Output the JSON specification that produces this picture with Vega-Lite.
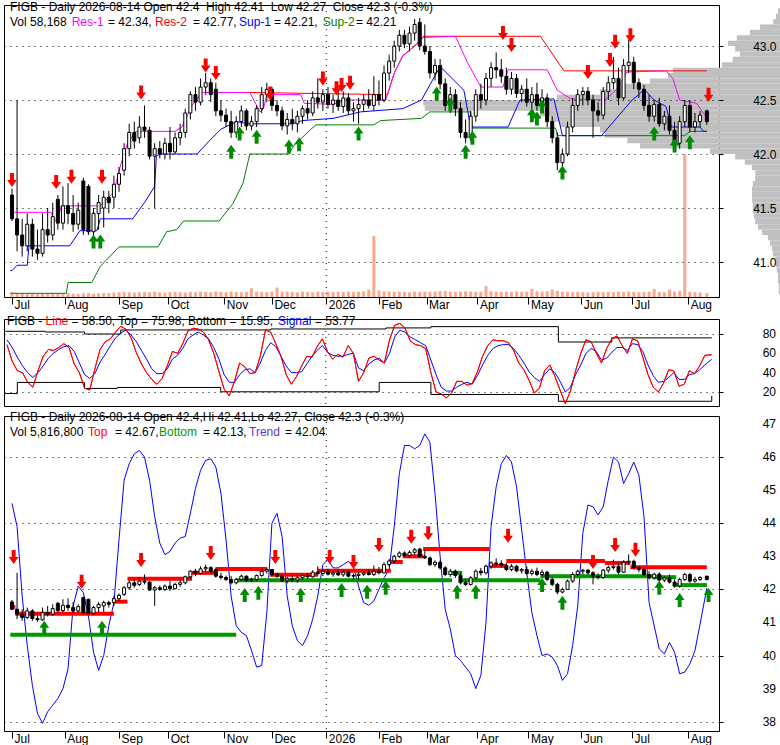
{
"$schema": "https://vega.github.io/schema/vega-lite/v6.json",
"padding": {"left": 2, "top": 0, "right": 0, "bottom": 0},
"config": {"font": "Liberation Sans", "view": {"stroke": "#000", "strokeWidth": 1}},
"datasets": {
"cd": [
{"d":"2025-07-01","o":41.62,"h":41.68,"l":41.38,"c":41.4,"v":70,"ln":69,"sg":74,"tr":44.6},
{"d":"2025-07-04","o":41.4,"h":42.5,"l":41.1,"c":41.25,"v":60,"ln":52,"sg":66,"tr":43.9},
{"d":"2025-07-07","o":41.25,"h":41.4,"l":41.05,"c":41.15,"v":55,"ln":42,"sg":56,"tr":41.8},
{"d":"2025-07-10","o":41.15,"h":41.45,"l":41.1,"c":41.35,"v":50,"ln":40,"sg":47,"tr":40.3},
{"d":"2025-07-13","o":41.35,"h":41.4,"l":41.05,"c":41.12,"v":55,"ln":30,"sg":40,"tr":39.1},
{"d":"2025-07-16","o":41.12,"h":41.3,"l":41.02,"c":41.08,"v":45,"ln":25,"sg":35,"tr":38.25},
{"d":"2025-07-19","o":41.08,"h":41.45,"l":41.05,"c":41.3,"v":50,"ln":42,"sg":40,"tr":37.95},
{"d":"2025-07-22","o":41.3,"h":41.5,"l":41.18,"c":41.25,"v":55,"ln":57,"sg":47,"tr":38.3},
{"d":"2025-07-25","o":41.25,"h":41.55,"l":41.2,"c":41.42,"v":60,"ln":64,"sg":55,"tr":38.5},
{"d":"2025-07-28","o":41.58,"h":41.62,"l":41.3,"c":41.36,"v":50,"ln":63,"sg":60,"tr":38.7},
{"d":"2025-07-31","o":41.36,"h":41.7,"l":41.3,"c":41.52,"v":55,"ln":66,"sg":64,"tr":39.0},
{"d":"2025-08-03","o":41.52,"h":41.73,"l":41.35,"c":41.45,"v":60,"ln":70,"sg":67,"tr":39.6},
{"d":"2025-08-06","o":41.45,"h":41.62,"l":41.28,"c":41.35,"v":50,"ln":66,"sg":68,"tr":41.5},
{"d":"2025-08-09","o":41.35,"h":41.55,"l":41.3,"c":41.48,"v":45,"ln":49,"sg":62,"tr":42.1},
{"d":"2025-08-12","o":41.75,"h":41.78,"l":41.25,"c":41.3,"v":55,"ln":40,"sg":50,"tr":41.9},
{"d":"2025-08-15","o":41.7,"h":41.72,"l":41.25,"c":41.28,"v":60,"ln":24,"sg":38,"tr":41.2},
{"d":"2025-08-18","o":41.28,"h":41.5,"l":41.22,"c":41.45,"v":50,"ln":22,"sg":34,"tr":40.1},
{"d":"2025-08-21","o":41.45,"h":41.62,"l":41.3,"c":41.55,"v":55,"ln":44,"sg":39,"tr":39.55},
{"d":"2025-08-24","o":41.5,"h":41.66,"l":41.32,"c":41.6,"v":60,"ln":64,"sg":51,"tr":40.0},
{"d":"2025-08-27","o":41.6,"h":41.66,"l":41.45,"c":41.55,"v":55,"ln":72,"sg":59,"tr":40.9},
{"d":"2025-08-30","o":41.6,"h":41.8,"l":41.5,"c":41.72,"v":65,"ln":75,"sg":68,"tr":41.6},
{"d":"2025-09-02","o":41.72,"h":41.88,"l":41.65,"c":41.82,"v":70,"ln":82,"sg":76,"tr":43.5},
{"d":"2025-09-05","o":41.85,"h":42.1,"l":41.8,"c":42.05,"v":75,"ln":88,"sg":81,"tr":45.3},
{"d":"2025-09-08","o":42.05,"h":42.28,"l":41.98,"c":42.2,"v":70,"ln":85,"sg":84,"tr":45.8},
{"d":"2025-09-11","o":42.2,"h":42.3,"l":42.05,"c":42.12,"v":65,"ln":76,"sg":79,"tr":46.1},
{"d":"2025-09-14","o":42.15,"h":42.35,"l":42.1,"c":42.25,"v":70,"ln":61,"sg":72,"tr":46.2},
{"d":"2025-09-17","o":42.25,"h":42.45,"l":42.15,"c":42.22,"v":75,"ln":49,"sg":63,"tr":46.0},
{"d":"2025-09-20","o":42.22,"h":42.25,"l":41.95,"c":41.98,"v":70,"ln":40,"sg":54,"tr":45.3},
{"d":"2025-09-23","o":41.98,"h":42.1,"l":41.5,"c":42.05,"v":80,"ln":33,"sg":44,"tr":44.2},
{"d":"2025-09-26","o":42.05,"h":42.12,"l":41.96,"c":42.0,"v":70,"ln":28,"sg":39,"tr":43.4},
{"d":"2025-09-29","o":42.0,"h":42.15,"l":41.95,"c":42.1,"v":65,"ln":34,"sg":39,"tr":43.05},
{"d":"2025-10-02","o":42.1,"h":42.25,"l":41.95,"c":42.02,"v":70,"ln":47,"sg":44,"tr":43.15},
{"d":"2025-10-05","o":42.02,"h":42.2,"l":42.0,"c":42.15,"v":75,"ln":62,"sg":54,"tr":43.4},
{"d":"2025-10-08","o":42.15,"h":42.28,"l":42.08,"c":42.2,"v":70,"ln":60,"sg":58,"tr":43.55},
{"d":"2025-10-11","o":42.2,"h":42.42,"l":42.15,"c":42.38,"v":65,"ln":70,"sg":65,"tr":43.6},
{"d":"2025-10-14","o":42.38,"h":42.58,"l":42.32,"c":42.55,"v":75,"ln":83,"sg":75,"tr":44.3},
{"d":"2025-10-17","o":42.55,"h":42.62,"l":42.4,"c":42.48,"v":70,"ln":86,"sg":79,"tr":45.05},
{"d":"2025-10-20","o":42.48,"h":42.7,"l":42.45,"c":42.62,"v":80,"ln":85,"sg":82,"tr":45.6},
{"d":"2025-10-23","o":42.62,"h":42.75,"l":42.55,"c":42.66,"v":75,"ln":82,"sg":79,"tr":45.9},
{"d":"2025-10-26","o":42.66,"h":42.7,"l":42.48,"c":42.55,"v":70,"ln":74,"sg":75,"tr":45.95},
{"d":"2025-10-29","o":42.6,"h":42.66,"l":42.35,"c":42.4,"v":80,"ln":60,"sg":66,"tr":45.7},
{"d":"2025-11-01","o":42.4,"h":42.5,"l":42.3,"c":42.36,"v":75,"ln":41,"sg":54,"tr":44.9},
{"d":"2025-11-04","o":42.36,"h":42.42,"l":42.25,"c":42.3,"v":70,"ln":23,"sg":38,"tr":43.5},
{"d":"2025-11-07","o":42.3,"h":42.4,"l":42.15,"c":42.2,"v":80,"ln":16,"sg":30,"tr":41.8},
{"d":"2025-11-10","o":42.2,"h":42.35,"l":42.15,"c":42.3,"v":75,"ln":31,"sg":30,"tr":40.9},
{"d":"2025-11-13","o":42.3,"h":42.45,"l":42.25,"c":42.4,"v":70,"ln":50,"sg":38,"tr":40.7},
{"d":"2025-11-16","o":42.4,"h":42.42,"l":42.22,"c":42.26,"v":75,"ln":46,"sg":43,"tr":40.6},
{"d":"2025-11-19","o":42.26,"h":42.35,"l":42.22,"c":42.3,"v":130,"ln":39,"sg":44,"tr":40.15},
{"d":"2025-11-22","o":42.3,"h":42.45,"l":42.25,"c":42.42,"v":80,"ln":40,"sg":40,"tr":39.65},
{"d":"2025-11-25","o":42.42,"h":42.62,"l":42.38,"c":42.55,"v":75,"ln":57,"sg":50,"tr":39.7},
{"d":"2025-11-28","o":42.55,"h":42.66,"l":42.48,"c":42.6,"v":70,"ln":84,"sg":63,"tr":41.3},
{"d":"2025-12-01","o":42.6,"h":42.62,"l":42.4,"c":42.45,"v":80,"ln":82,"sg":71,"tr":44.0},
{"d":"2025-12-04","o":42.45,"h":42.5,"l":42.35,"c":42.4,"v":140,"ln":70,"sg":67,"tr":44.3},
{"d":"2025-12-07","o":42.4,"h":42.44,"l":42.22,"c":42.26,"v":75,"ln":57,"sg":57,"tr":43.6},
{"d":"2025-12-10","o":42.26,"h":42.38,"l":42.18,"c":42.32,"v":80,"ln":38,"sg":47,"tr":41.8},
{"d":"2025-12-13","o":42.32,"h":42.42,"l":42.22,"c":42.28,"v":75,"ln":28,"sg":40,"tr":40.9},
{"d":"2025-12-16","o":42.28,"h":42.4,"l":42.2,"c":42.35,"v":70,"ln":36,"sg":40,"tr":40.45},
{"d":"2025-12-19","o":42.35,"h":42.45,"l":42.28,"c":42.42,"v":80,"ln":47,"sg":41,"tr":40.3},
{"d":"2025-12-22","o":42.42,"h":42.5,"l":42.32,"c":42.38,"v":75,"ln":57,"sg":49,"tr":40.6},
{"d":"2025-12-25","o":42.38,"h":42.58,"l":42.35,"c":42.52,"v":70,"ln":56,"sg":57,"tr":41.1},
{"d":"2025-12-28","o":42.52,"h":42.7,"l":42.42,"c":42.48,"v":80,"ln":67,"sg":63,"tr":41.8},
{"d":"2025-12-31","o":42.48,"h":42.6,"l":42.4,"c":42.55,"v":75,"ln":75,"sg":68,"tr":42.75},
{"d":"2026-01-03","o":42.55,"h":42.62,"l":42.42,"c":42.46,"v":80,"ln":62,"sg":61,"tr":42.9},
{"d":"2026-01-06","o":42.46,"h":42.55,"l":42.38,"c":42.5,"v":75,"ln":54,"sg":58,"tr":42.65},
{"d":"2026-01-09","o":42.5,"h":42.6,"l":42.4,"c":42.44,"v":80,"ln":59,"sg":57,"tr":42.65},
{"d":"2026-01-12","o":42.44,"h":42.58,"l":42.38,"c":42.52,"v":75,"ln":56,"sg":57,"tr":42.75},
{"d":"2026-01-15","o":42.52,"h":42.56,"l":42.36,"c":42.4,"v":80,"ln":68,"sg":59,"tr":42.85},
{"d":"2026-01-18","o":42.4,"h":42.48,"l":42.3,"c":42.42,"v":75,"ln":60,"sg":60,"tr":42.7},
{"d":"2026-01-21","o":42.42,"h":42.52,"l":42.28,"c":42.46,"v":80,"ln":31,"sg":45,"tr":42.1},
{"d":"2026-01-24","o":42.46,"h":42.55,"l":42.4,"c":42.5,"v":85,"ln":40,"sg":42,"tr":41.6},
{"d":"2026-01-27","o":42.5,"h":42.6,"l":42.42,"c":42.45,"v":110,"ln":55,"sg":49,"tr":41.52},
{"d":"2026-01-30","o":42.45,"h":42.72,"l":42.4,"c":42.55,"v":900,"ln":57,"sg":53,"tr":41.65},
{"d":"2026-02-02","o":42.55,"h":42.68,"l":42.45,"c":42.5,"v":95,"ln":53,"sg":55,"tr":42.0},
{"d":"2026-02-05","o":42.5,"h":42.82,"l":42.48,"c":42.75,"v":85,"ln":50,"sg":50,"tr":42.35},
{"d":"2026-02-08","o":42.75,"h":42.92,"l":42.68,"c":42.86,"v":80,"ln":74,"sg":60,"tr":42.6},
{"d":"2026-02-11","o":42.86,"h":43.05,"l":42.8,"c":43.0,"v":75,"ln":89,"sg":77,"tr":43.9},
{"d":"2026-02-14","o":43.0,"h":43.15,"l":42.95,"c":43.1,"v":80,"ln":91,"sg":84,"tr":45.5},
{"d":"2026-02-17","o":43.1,"h":43.15,"l":42.98,"c":43.02,"v":75,"ln":86,"sg":82,"tr":46.35},
{"d":"2026-02-20","o":43.02,"h":43.18,"l":42.95,"c":43.12,"v":70,"ln":73,"sg":77,"tr":46.35},
{"d":"2026-02-23","o":43.12,"h":43.25,"l":43.05,"c":43.2,"v":80,"ln":69,"sg":74,"tr":46.25},
{"d":"2026-02-26","o":43.22,"h":43.26,"l":42.96,"c":43.0,"v":75,"ln":68,"sg":71,"tr":46.35},
{"d":"2026-03-01","o":43.0,"h":43.2,"l":42.92,"c":42.95,"v":80,"ln":65,"sg":68,"tr":46.7},
{"d":"2026-03-04","o":42.95,"h":43.0,"l":42.7,"c":42.75,"v":75,"ln":40,"sg":53,"tr":46.45},
{"d":"2026-03-07","o":42.75,"h":42.88,"l":42.68,"c":42.82,"v":80,"ln":20,"sg":38,"tr":44.9},
{"d":"2026-03-10","o":42.82,"h":42.88,"l":42.6,"c":42.65,"v":85,"ln":18,"sg":25,"tr":43.0},
{"d":"2026-03-13","o":42.65,"h":42.7,"l":42.4,"c":42.45,"v":90,"ln":14,"sg":21,"tr":41.4},
{"d":"2026-03-16","o":42.45,"h":42.62,"l":42.38,"c":42.55,"v":80,"ln":19,"sg":21,"tr":40.8},
{"d":"2026-03-19","o":42.55,"h":42.6,"l":42.35,"c":42.42,"v":75,"ln":31,"sg":25,"tr":40.0},
{"d":"2026-03-22","o":42.42,"h":42.48,"l":42.15,"c":42.2,"v":80,"ln":31,"sg":28,"tr":39.85},
{"d":"2026-03-25","o":42.2,"h":42.32,"l":42.1,"c":42.15,"v":85,"ln":27,"sg":30,"tr":39.65},
{"d":"2026-03-28","o":42.15,"h":42.4,"l":42.12,"c":42.35,"v":80,"ln":29,"sg":28,"tr":39.45},
{"d":"2026-03-31","o":42.35,"h":42.6,"l":42.3,"c":42.55,"v":75,"ln":41,"sg":37,"tr":39.0},
{"d":"2026-04-03","o":42.55,"h":42.65,"l":42.42,"c":42.5,"v":80,"ln":57,"sg":48,"tr":39.4},
{"d":"2026-04-06","o":42.5,"h":42.75,"l":42.45,"c":42.7,"v":160,"ln":68,"sg":58,"tr":41.0},
{"d":"2026-04-09","o":42.7,"h":42.85,"l":42.62,"c":42.8,"v":85,"ln":74,"sg":65,"tr":43.9},
{"d":"2026-04-12","o":42.8,"h":42.94,"l":42.7,"c":42.78,"v":80,"ln":73,"sg":68,"tr":45.1},
{"d":"2026-04-15","o":42.78,"h":42.88,"l":42.66,"c":42.72,"v":75,"ln":73,"sg":69,"tr":45.8},
{"d":"2026-04-18","o":42.72,"h":42.8,"l":42.55,"c":42.6,"v":80,"ln":71,"sg":69,"tr":46.05},
{"d":"2026-04-21","o":42.6,"h":42.76,"l":42.55,"c":42.7,"v":75,"ln":63,"sg":65,"tr":45.85},
{"d":"2026-04-24","o":42.7,"h":42.74,"l":42.52,"c":42.56,"v":80,"ln":50,"sg":58,"tr":45.1},
{"d":"2026-04-27","o":42.56,"h":42.64,"l":42.48,"c":42.6,"v":75,"ln":43,"sg":50,"tr":43.8},
{"d":"2026-04-30","o":42.6,"h":42.7,"l":42.44,"c":42.48,"v":80,"ln":32,"sg":41,"tr":42.5},
{"d":"2026-05-03","o":42.48,"h":42.62,"l":42.42,"c":42.55,"v":120,"ln":19,"sg":35,"tr":41.3},
{"d":"2026-05-06","o":42.55,"h":42.66,"l":42.4,"c":42.45,"v":85,"ln":24,"sg":31,"tr":40.6},
{"d":"2026-05-09","o":42.45,"h":42.6,"l":42.4,"c":42.52,"v":80,"ln":42,"sg":38,"tr":40.0},
{"d":"2026-05-12","o":42.52,"h":42.56,"l":42.25,"c":42.3,"v":85,"ln":48,"sg":44,"tr":40.05},
{"d":"2026-05-15","o":42.3,"h":42.35,"l":42.1,"c":42.15,"v":110,"ln":36,"sg":40,"tr":39.95},
{"d":"2026-05-18","o":42.15,"h":42.2,"l":41.85,"c":41.92,"v":90,"ln":22,"sg":31,"tr":39.7},
{"d":"2026-05-21","o":41.92,"h":42.05,"l":41.88,"c":42.0,"v":80,"ln":8,"sg":20,"tr":39.25},
{"d":"2026-05-24","o":42.0,"h":42.3,"l":41.98,"c":42.25,"v":75,"ln":21,"sg":25,"tr":39.45},
{"d":"2026-05-27","o":42.25,"h":42.52,"l":42.2,"c":42.45,"v":70,"ln":42,"sg":38,"tr":40.3},
{"d":"2026-05-30","o":42.45,"h":42.6,"l":42.4,"c":42.55,"v":75,"ln":60,"sg":48,"tr":41.5},
{"d":"2026-06-02","o":42.55,"h":42.62,"l":42.45,"c":42.58,"v":70,"ln":74,"sg":60,"tr":43.7},
{"d":"2026-06-05","o":42.58,"h":42.62,"l":42.45,"c":42.5,"v":65,"ln":72,"sg":65,"tr":44.55},
{"d":"2026-06-08","o":42.5,"h":42.55,"l":42.15,"c":42.4,"v":70,"ln":60,"sg":62,"tr":44.5},
{"d":"2026-06-11","o":42.4,"h":42.48,"l":42.3,"c":42.36,"v":75,"ln":50,"sg":53,"tr":44.25},
{"d":"2026-06-14","o":42.36,"h":42.62,"l":42.32,"c":42.58,"v":70,"ln":65,"sg":55,"tr":44.5},
{"d":"2026-06-17","o":42.58,"h":42.72,"l":42.5,"c":42.66,"v":75,"ln":75,"sg":61,"tr":45.3},
{"d":"2026-06-20","o":42.66,"h":42.9,"l":42.6,"c":42.7,"v":70,"ln":78,"sg":66,"tr":46.0},
{"d":"2026-06-23","o":42.7,"h":42.8,"l":42.45,"c":42.52,"v":80,"ln":68,"sg":66,"tr":45.85},
{"d":"2026-06-26","o":42.52,"h":42.88,"l":42.5,"c":42.82,"v":75,"ln":60,"sg":63,"tr":45.2},
{"d":"2026-06-29","o":42.82,"h":43.06,"l":42.75,"c":42.85,"v":80,"ln":75,"sg":70,"tr":45.5},
{"d":"2026-07-02","o":42.85,"h":42.9,"l":42.6,"c":42.66,"v":75,"ln":73,"sg":69,"tr":45.85},
{"d":"2026-07-05","o":42.66,"h":42.7,"l":42.52,"c":42.6,"v":70,"ln":56,"sg":62,"tr":45.45},
{"d":"2026-07-08","o":42.6,"h":42.64,"l":42.4,"c":42.45,"v":75,"ln":38,"sg":48,"tr":44.2},
{"d":"2026-07-11","o":42.45,"h":42.55,"l":42.3,"c":42.35,"v":80,"ln":25,"sg":37,"tr":41.6},
{"d":"2026-07-14","o":42.35,"h":42.5,"l":42.3,"c":42.46,"v":120,"ln":20,"sg":30,"tr":40.9},
{"d":"2026-07-17","o":42.46,"h":42.52,"l":42.25,"c":42.28,"v":75,"ln":29,"sg":31,"tr":40.2},
{"d":"2026-07-20","o":42.28,"h":42.4,"l":42.22,"c":42.35,"v":70,"ln":43,"sg":35,"tr":40.05},
{"d":"2026-07-23","o":42.35,"h":42.45,"l":42.18,"c":42.22,"v":110,"ln":42,"sg":40,"tr":40.4},
{"d":"2026-07-26","o":42.22,"h":42.3,"l":42.05,"c":42.1,"v":80,"ln":26,"sg":33,"tr":40.1},
{"d":"2026-07-29","o":42.1,"h":42.35,"l":42.05,"c":42.3,"v":90,"ln":28,"sg":33,"tr":39.45},
{"d":"2026-08-01","o":42.3,"h":42.5,"l":42.25,"c":42.45,"v":2100,"ln":42,"sg":38,"tr":39.5},
{"d":"2026-08-04","o":42.45,"h":42.5,"l":42.2,"c":42.25,"v":75,"ln":39,"sg":39,"tr":39.75},
{"d":"2026-08-07","o":42.25,"h":42.38,"l":42.2,"c":42.3,"v":70,"ln":47,"sg":43,"tr":40.15},
{"d":"2026-08-10","o":42.3,"h":42.4,"l":42.25,"c":42.36,"v":65,"ln":58,"sg":48,"tr":40.95},
{"d":"2026-08-14","o":42.4,"h":42.41,"l":42.27,"c":42.3,"v":58,"ln":58.5,"sg":53.77,"tr":42.04}
],
"vp": [
{"p0":43.3,"p1":43.35,"pv":5},{"p0":43.25,"p1":43.3,"pv":10},{"p0":43.2,"p1":43.25,"pv":17},{"p0":43.15,"p1":43.2,"pv":50},
{"p0":43.1,"p1":43.15,"pv":75},{"p0":43.05,"p1":43.1,"pv":108},{"p0":43.0,"p1":43.05,"pv":130},{"p0":42.95,"p1":43.0,"pv":112},
{"p0":42.9,"p1":42.95,"pv":100},{"p0":42.85,"p1":42.9,"pv":118},{"p0":42.8,"p1":42.85,"pv":145},{"p0":42.75,"p1":42.8,"pv":268},
{"p0":42.7,"p1":42.75,"pv":280},{"p0":42.65,"p1":42.7,"pv":325},{"p0":42.6,"p1":42.65,"pv":400},{"p0":42.55,"p1":42.6,"pv":450},
{"p0":42.5,"p1":42.55,"pv":558},{"p0":42.45,"p1":42.5,"pv":892},{"p0":42.4,"p1":42.45,"pv":888},{"p0":42.35,"p1":42.4,"pv":600},
{"p0":42.3,"p1":42.35,"pv":575},{"p0":42.25,"p1":42.3,"pv":550},{"p0":42.2,"p1":42.25,"pv":450},{"p0":42.15,"p1":42.2,"pv":438},
{"p0":42.1,"p1":42.15,"pv":382},{"p0":42.05,"p1":42.1,"pv":350},{"p0":42.0,"p1":42.05,"pv":175},{"p0":41.95,"p1":42.0,"pv":112},
{"p0":41.9,"p1":41.95,"pv":88},{"p0":41.85,"p1":41.9,"pv":70},{"p0":41.8,"p1":41.85,"pv":62},{"p0":41.75,"p1":41.8,"pv":62},
{"p0":41.7,"p1":41.75,"pv":68},{"p0":41.65,"p1":41.7,"pv":70},{"p0":41.6,"p1":41.65,"pv":70},{"p0":41.55,"p1":41.6,"pv":70},
{"p0":41.5,"p1":41.55,"pv":68},{"p0":41.45,"p1":41.5,"pv":68},{"p0":41.4,"p1":41.45,"pv":65},{"p0":41.35,"p1":41.4,"pv":62},
{"p0":41.3,"p1":41.35,"pv":55},{"p0":41.25,"p1":41.3,"pv":45},{"p0":41.2,"p1":41.25,"pv":30},{"p0":41.15,"p1":41.2,"pv":25},
{"p0":41.1,"p1":41.15,"pv":20},{"p0":41.05,"p1":41.1,"pv":18},{"p0":41.0,"p1":41.05,"pv":12},{"p0":40.95,"p1":41.0,"pv":10},
{"p0":40.9,"p1":40.95,"pv":8},{"p0":40.8,"p1":40.9,"pv":5},{"p0":40.7,"p1":40.8,"pv":3}
],
"lv": [
{"s":"s2","d":"2025-06-30","v":40.71},{"s":"s2","d":"2025-08-02","v":40.71},{"s":"s2","d":"2025-08-03","v":40.81},{"s":"s2","d":"2025-08-17","v":40.81},
{"s":"s2","d":"2025-08-22","v":40.96},{"s":"s2","d":"2025-09-02","v":41.14},{"s":"s2","d":"2025-09-25","v":41.14},{"s":"s2","d":"2025-09-30","v":41.28},
{"s":"s2","d":"2025-10-06","v":41.3},{"s":"s2","d":"2025-10-10","v":41.38},{"s":"s2","d":"2025-10-31","v":41.38},{"s":"s2","d":"2025-11-08","v":41.54},
{"s":"s2","d":"2025-11-14","v":41.73},{"s":"s2","d":"2025-11-18","v":42.0},{"s":"s2","d":"2025-12-11","v":42.0},{"s":"s2","d":"2025-12-14","v":42.08},
{"s":"s2","d":"2025-12-24","v":42.23},{"s":"s2","d":"2025-12-27","v":42.27},{"s":"s2","d":"2026-01-30","v":42.27},{"s":"s2","d":"2026-02-03","v":42.31},
{"s":"s2","d":"2026-02-27","v":42.33},{"s":"s2","d":"2026-03-04","v":42.39},{"s":"s2","d":"2026-03-28","v":42.39},{"s":"s2","d":"2026-03-29","v":42.24},
{"s":"s2","d":"2026-05-17","v":42.24},{"s":"s2","d":"2026-05-18","v":42.17},{"s":"s2","d":"2026-08-01","v":42.17},{"s":"s2","d":"2026-08-04","v":42.21},
{"s":"s2","d":"2026-08-14","v":42.21},
{"s":"s1","d":"2025-06-30","v":40.92},{"s":"s1","d":"2025-07-01","v":40.92},{"s":"s1","d":"2025-07-04","v":40.97},{"s":"s1","d":"2025-07-10","v":40.97},
{"s":"s1","d":"2025-07-11","v":41.15},{"s":"s1","d":"2025-08-04","v":41.15},{"s":"s1","d":"2025-08-10","v":41.29},{"s":"s1","d":"2025-08-20","v":41.29},
{"s":"s1","d":"2025-08-22","v":41.4},{"s":"s1","d":"2025-09-10","v":41.4},{"s":"s1","d":"2025-09-17","v":41.55},{"s":"s1","d":"2025-09-23","v":41.7},
{"s":"s1","d":"2025-09-24","v":41.98},{"s":"s1","d":"2025-09-26","v":42.0},{"s":"s1","d":"2025-10-18","v":42.0},{"s":"s1","d":"2025-10-25","v":42.12},
{"s":"s1","d":"2025-11-01","v":42.23},{"s":"s1","d":"2025-11-10","v":42.3},{"s":"s1","d":"2025-11-17","v":42.28},{"s":"s1","d":"2025-12-13","v":42.28},
{"s":"s1","d":"2025-12-19","v":42.31},{"s":"s1","d":"2026-01-06","v":42.33},{"s":"s1","d":"2026-01-22","v":42.39},{"s":"s1","d":"2026-02-16","v":42.42},
{"s":"s1","d":"2026-02-27","v":42.5},{"s":"s1","d":"2026-03-10","v":42.81},{"s":"s1","d":"2026-03-24","v":42.59},{"s":"s1","d":"2026-03-28","v":42.25},
{"s":"s1","d":"2026-04-19","v":42.25},{"s":"s1","d":"2026-04-26","v":42.5},{"s":"s1","d":"2026-05-16","v":42.51},{"s":"s1","d":"2026-05-21","v":42.17},
{"s":"s1","d":"2026-06-13","v":42.17},{"s":"s1","d":"2026-07-01","v":42.5},{"s":"s1","d":"2026-07-05","v":42.55},{"s":"s1","d":"2026-07-08","v":42.6},
{"s":"s1","d":"2026-07-14","v":42.5},{"s":"s1","d":"2026-07-21","v":42.44},{"s":"s1","d":"2026-07-24","v":42.25},{"s":"s1","d":"2026-08-10","v":42.25},
{"s":"s1","d":"2026-08-12","v":42.21},{"s":"s1","d":"2026-08-14","v":42.21},
{"s":"r2","d":"2025-11-18","v":42.57},{"s":"r2","d":"2026-02-07","v":42.55},{"s":"r2","d":"2026-02-11","v":42.75},{"s":"r2","d":"2026-02-16","v":42.91},
{"s":"r2","d":"2026-02-23","v":43.0},{"s":"r2","d":"2026-02-28","v":43.09},{"s":"r2","d":"2026-05-08","v":43.09},{"s":"r2","d":"2026-05-12","v":43.0},
{"s":"r2","d":"2026-05-17","v":42.88},{"s":"r2","d":"2026-05-22","v":42.77},{"s":"r2","d":"2026-08-14","v":42.77},
{"s":"r1","d":"2025-06-30","v":41.46},{"s":"r1","d":"2025-07-24","v":41.46},{"s":"r1","d":"2025-07-26","v":41.38},{"s":"r1","d":"2025-07-28","v":41.4},
{"s":"r1","d":"2025-07-30","v":41.52},{"s":"r1","d":"2025-08-22","v":41.52},{"s":"r1","d":"2025-08-30","v":41.65},{"s":"r1","d":"2025-09-03","v":41.9},
{"s":"r1","d":"2025-09-07","v":42.1},{"s":"r1","d":"2025-09-12","v":42.21},{"s":"r1","d":"2025-10-05","v":42.21},{"s":"r1","d":"2025-10-09","v":42.25},
{"s":"r1","d":"2025-10-15","v":42.45},{"s":"r1","d":"2025-10-21","v":42.57},{"s":"r1","d":"2025-11-18","v":42.57},{"s":"r1","d":"2025-11-24","v":42.39},
{"s":"r1","d":"2025-11-26","v":42.42},{"s":"r1","d":"2025-11-28","v":42.55},{"s":"r1","d":"2025-12-18","v":42.55},{"s":"r1","d":"2025-12-20","v":42.47},
{"s":"r1","d":"2026-01-06","v":42.46},{"s":"r1","d":"2026-01-13","v":42.5},{"s":"r1","d":"2026-02-06","v":42.5},{"s":"r1","d":"2026-02-11","v":42.75},
{"s":"r1","d":"2026-02-16","v":42.91},{"s":"r1","d":"2026-02-23","v":43.0},{"s":"r1","d":"2026-02-28","v":43.08},{"s":"r1","d":"2026-03-19","v":43.09},
{"s":"r1","d":"2026-03-26","v":42.85},{"s":"r1","d":"2026-04-03","v":42.62},{"s":"r1","d":"2026-04-16","v":42.62},{"s":"r1","d":"2026-04-19","v":42.78},
{"s":"r1","d":"2026-05-12","v":42.78},{"s":"r1","d":"2026-05-18","v":42.59},{"s":"r1","d":"2026-05-26","v":42.51},{"s":"r1","d":"2026-06-15","v":42.5},
{"s":"r1","d":"2026-06-22","v":42.6},{"s":"r1","d":"2026-06-28","v":42.76},{"s":"r1","d":"2026-07-21","v":42.77},{"s":"r1","d":"2026-07-25","v":42.7},
{"s":"r1","d":"2026-07-29","v":42.5},{"s":"r1","d":"2026-08-08","v":42.47},{"s":"r1","d":"2026-08-11","v":42.4},{"s":"r1","d":"2026-08-14","v":42.34}
],
"st": [
{"s":"t","d":"2025-06-30","v":82.8},{"s":"t","d":"2025-07-23","v":82.1},{"s":"t","d":"2025-08-15","v":80},{"s":"t","d":"2025-09-05","v":84.2},
{"s":"t","d":"2025-12-01","v":85.2},{"s":"t","d":"2026-02-06","v":86.3},{"s":"t","d":"2026-03-04","v":87.6},{"s":"t","d":"2026-05-17","v":71.7},
{"s":"t","d":"2026-06-17","v":75.98},{"s":"t","d":"2026-08-14","v":75.98},
{"s":"b","d":"2025-06-30","v":18.4},{"s":"b","d":"2025-07-07","v":29.9},{"s":"b","d":"2025-08-15","v":23.7},{"s":"b","d":"2025-09-03","v":24.7},
{"s":"b","d":"2025-11-02","v":20.2},{"s":"b","d":"2026-02-02","v":29.9},{"s":"b","d":"2026-03-04","v":17.4},{"s":"b","d":"2026-05-17","v":10.4},
{"s":"b","d":"2026-08-13","v":10.4},{"s":"b","d":"2026-08-14","v":15.95}
],
"tb": [
{"a":"2025-06-30","b":"2025-07-03","p":41.47,"t":"top"},{"a":"2025-07-03","b":"2025-08-30","p":41.26,"t":"top"},
{"a":"2025-08-30","b":"2025-09-07","p":41.63,"t":"top"},{"a":"2025-09-07","b":"2025-10-15","p":42.32,"t":"top"},
{"a":"2025-10-15","b":"2025-10-29","p":42.5,"t":"top"},{"a":"2025-10-29","b":"2025-11-28","p":42.62,"t":"top"},
{"a":"2025-11-30","b":"2025-12-28","p":42.44,"t":"top"},{"a":"2025-12-28","b":"2026-02-09","p":42.56,"t":"top"},
{"a":"2026-02-09","b":"2026-02-16","p":42.83,"t":"top"},{"a":"2026-02-16","b":"2026-02-28","p":43.0,"t":"top"},
{"a":"2026-02-28","b":"2026-04-08","p":43.22,"t":"top"},{"a":"2026-04-08","b":"2026-04-18","p":42.71,"t":"top"},
{"a":"2026-04-18","b":"2026-06-15","p":42.86,"t":"top"},{"a":"2026-06-15","b":"2026-06-30","p":42.8,"t":"top"},
{"a":"2026-06-30","b":"2026-08-14","p":42.67,"t":"top"},
{"a":"2025-06-30","b":"2025-11-10","p":40.63,"t":"bot"},{"a":"2025-11-10","b":"2026-03-17","p":42.28,"t":"bot"},
{"a":"2026-03-17","b":"2026-03-23","p":42.5,"t":"bot"},{"a":"2026-03-23","b":"2026-05-08","p":42.28,"t":"bot"},
{"a":"2026-05-08","b":"2026-07-13","p":42.4,"t":"bot"},{"a":"2026-07-13","b":"2026-07-27","p":42.37,"t":"bot"},
{"a":"2026-07-27","b":"2026-08-14","p":42.13,"t":"bot"}
],
"at": [
{"d":"2025-07-01","p":41.76,"t":"dn"},{"d":"2025-07-27","p":41.74,"t":"dn"},{"d":"2025-08-05","p":41.79,"t":"dn"},{"d":"2025-08-23","p":41.79,"t":"dn"},
{"d":"2025-09-15","p":42.57,"t":"dn"},{"d":"2025-10-23","p":42.82,"t":"dn"},{"d":"2025-10-29","p":42.75,"t":"dn"},{"d":"2025-11-30","p":42.56,"t":"dn"},
{"d":"2025-12-31","p":42.7,"t":"dn"},{"d":"2026-01-08","p":42.61,"t":"dn"},{"d":"2026-01-11","p":42.64,"t":"dn"},{"d":"2026-01-16","p":42.66,"t":"dn"},
{"d":"2026-04-16","p":43.12,"t":"dn"},{"d":"2026-04-21","p":43.01,"t":"dn"},{"d":"2026-06-05","p":42.76,"t":"dn"},{"d":"2026-06-18","p":42.87,"t":"dn"},
{"d":"2026-06-21","p":43.04,"t":"dn"},{"d":"2026-06-30","p":43.1,"t":"dn"},{"d":"2026-08-15","p":42.55,"t":"dn"},
{"d":"2025-08-18","p":41.19,"t":"up"},{"d":"2025-08-22","p":41.19,"t":"up"},{"d":"2025-11-07","p":42.02,"t":"up"},{"d":"2025-11-12","p":42.19,"t":"up"},
{"d":"2025-11-22","p":42.16,"t":"up"},{"d":"2025-12-11","p":42.07,"t":"up"},{"d":"2025-12-17","p":42.09,"t":"up"},{"d":"2026-01-21","p":42.19,"t":"up"},
{"d":"2026-03-08","p":42.56,"t":"up"},{"d":"2026-03-16","p":42.46,"t":"up"},{"d":"2026-03-25","p":42.02,"t":"up"},{"d":"2026-03-29","p":42.15,"t":"up"},
{"d":"2026-05-03","p":42.36,"t":"up"},{"d":"2026-05-06","p":42.33,"t":"up"},{"d":"2026-05-09","p":42.44,"t":"up"},{"d":"2026-05-21","p":41.83,"t":"up"},
{"d":"2026-07-14","p":42.19,"t":"up"},{"d":"2026-07-26","p":42.08,"t":"up"},{"d":"2026-08-04","p":42.11,"t":"up"}
],
"ab": [
{"d":"2025-07-02","p":42.98,"t":"dn"},{"d":"2025-08-11","p":42.23,"t":"dn"},{"d":"2025-09-15","p":42.89,"t":"dn"},{"d":"2025-10-26","p":43.1,"t":"dn"},
{"d":"2025-12-03","p":42.98,"t":"dn"},{"d":"2026-01-04","p":42.98,"t":"dn"},{"d":"2026-01-18","p":42.83,"t":"dn"},{"d":"2026-02-02","p":43.34,"t":"dn"},
{"d":"2026-02-21","p":43.59,"t":"dn"},{"d":"2026-03-03","p":43.7,"t":"dn"},{"d":"2026-04-19","p":43.62,"t":"dn"},{"d":"2026-06-08","p":42.83,"t":"dn"},
{"d":"2026-06-21","p":43.34,"t":"dn"},{"d":"2026-07-03","p":43.2,"t":"dn"},
{"d":"2025-07-20","p":40.84,"t":"up"},{"d":"2025-08-23","p":40.84,"t":"up"},{"d":"2025-11-15","p":41.83,"t":"up"},{"d":"2025-11-23","p":41.9,"t":"up"},
{"d":"2025-12-18","p":41.83,"t":"up"},{"d":"2026-01-11","p":41.98,"t":"up"},{"d":"2026-01-26","p":41.93,"t":"up"},{"d":"2026-02-06","p":42.05,"t":"up"},
{"d":"2026-03-20","p":41.93,"t":"up"},{"d":"2026-03-31","p":41.93,"t":"up"},{"d":"2026-05-09","p":42.13,"t":"up"},{"d":"2026-05-21","p":41.6,"t":"up"},
{"d":"2026-07-17","p":42.05,"t":"up"},{"d":"2026-07-29","p":41.68,"t":"up"},{"d":"2026-08-15","p":41.83,"t":"up"}
]
},
"spacing": 22,
"bounds": "flush",
"vconcat": [
{
"width": 715, "height": 292,
"resolve": {"scale": {"x": "independent", "y": "independent"}},
"layer": [
{"data": {"name": "vp"}, "mark": {"type": "rect", "color": "#c0c0c0"},
 "encoding": {
  "y": {"field": "p0", "type": "quantitative", "scale": {"domain": [40.676, 43.38], "nice": false, "zero": false}, "axis": null},
  "y2": {"field": "p1"},
  "x": {"field": "pv", "type": "quantitative", "scale": {"domain": [0, 1000], "range": [776, 376], "nice": false}, "axis": null},
  "x2": {"datum": 0}}},
{"data": {"name": "cd"}, "mark": {"type": "bar", "size": 3, "color": "#f9a98e"},
 "encoding": {
  "x": {"field": "d", "type": "temporal", "scale": {"domain": [{"year":2025,"month":6,"date":29,"hours":6},{"year":2026,"month":8,"date":18,"hours":5}], "nice": false}, "axis": null},
  "y": {"field": "v", "type": "quantitative", "scale": {"domain": [0, 4300], "nice": false}, "axis": null}}},
{"layer": [
 {"data": {"values": [{}]}, "mark": {"type": "rule", "color": "#000", "strokeDash": [1, 5]},
  "encoding": {"x": {"datum": {"year": 2026, "month": 1, "date": 2}, "type": "temporal"}}},
 {"data": {"name": "lv"}, "transform": [{"filter": "datum.s == 's2'"}], "mark": {"type": "line", "color": "#008000", "strokeWidth": 1},
  "encoding": {"x": {"field": "d", "type": "temporal"}, "y": {"field": "v", "type": "quantitative"}}},
 {"data": {"name": "lv"}, "transform": [{"filter": "datum.s == 's1'"}], "mark": {"type": "line", "color": "#0000ff", "strokeWidth": 1},
  "encoding": {"x": {"field": "d", "type": "temporal"}, "y": {"field": "v", "type": "quantitative"}}},
 {"data": {"name": "lv"}, "transform": [{"filter": "datum.s == 'r2'"}], "mark": {"type": "line", "color": "#ff0000", "strokeWidth": 1},
  "encoding": {"x": {"field": "d", "type": "temporal"}, "y": {"field": "v", "type": "quantitative"}}},
 {"data": {"name": "lv"}, "transform": [{"filter": "datum.s == 'r1'"}], "mark": {"type": "line", "color": "#ff00ff", "strokeWidth": 1},
  "encoding": {"x": {"field": "d", "type": "temporal"}, "y": {"field": "v", "type": "quantitative"}}},
 {"data": {"name": "cd"}, "mark": {"type": "rule", "color": "#000", "strokeWidth": 1},
  "encoding": {
   "x": {"field": "d", "type": "temporal",
    "scale": {"domain": [{"year":2025,"month":6,"date":29,"hours":6},{"year":2026,"month":8,"date":18,"hours":5}], "nice": false},
    "axis": {"title": null, "grid": false, "domain": false, "tickSize": 7, "tickColor": "#000", "labelPadding": -5, "labelAlign": "left", "labelOffset": 2,
     "labelFontSize": 12, "labelColor": "#000", "labelFont": "Liberation Sans", "labelOverlap": false, "labelFlush": false,
     "values": [{"year":2025,"month":7,"date":1},{"year":2025,"month":8,"date":1},{"year":2025,"month":9,"date":2},{"year":2025,"month":10,"date":1},{"year":2025,"month":11,"date":3},{"year":2025,"month":12,"date":1},{"year":2026,"month":1,"date":2},{"year":2026,"month":2,"date":2},{"year":2026,"month":3,"date":2},{"year":2026,"month":4,"date":1},{"year":2026,"month":5,"date":1},{"year":2026,"month":6,"date":1},{"year":2026,"month":7,"date":1},{"year":2026,"month":8,"date":3}],
     "labelExpr": "month(datum.value) == 0 ? timeFormat(datum.value, '%Y') : timeFormat(datum.value, '%b')"}},
   "y": {"field": "l", "type": "quantitative",
    "scale": {"domain": [40.676, 43.38], "nice": false, "zero": false},
    "axis": {"orient": "right", "title": null, "values": [41, 41.5, 42, 42.5, 43], "format": ".1f", "grid": true, "gridDash": [1, 5], "gridColor": "#000", "gridOpacity": 1,
     "domain": false, "tickSize": 4, "tickColor": "#000", "labelPadding": 53, "labelAlign": "right", "labelFontSize": 12, "labelColor": "#000", "labelFont": "Liberation Sans",
     "labelOverlap": false, "labelBound": false, "zindex": 1}},
   "y2": {"field": "h"}}},
 {"data": {"name": "cd"}, "mark": {"type": "bar", "size": 3, "stroke": "#000", "strokeWidth": 1},
  "encoding": {"x": {"field": "d", "type": "temporal"}, "y": {"field": "o", "type": "quantitative"}, "y2": {"field": "c"},
   "fill": {"condition": {"test": "datum.c >= datum.o", "value": "#ffffff"}, "value": "#000000"}}},
 {"data": {"name": "at"}, "mark": {"type": "point", "filled": true, "size": 196, "opacity": 1, "strokeWidth": 0},
  "encoding": {"x": {"field": "d", "type": "temporal"}, "y": {"field": "p", "type": "quantitative"},
   "shape": {"condition": {"test": "datum.t == 'dn'", "value": "M-0.28,-1H0.28V0H0.7L0,1L-0.7,0H-0.28Z"}, "value": "M-0.28,1H0.28V0H0.7L0,-1L-0.7,0H-0.28Z"},
   "color": {"condition": {"test": "datum.t == 'dn'", "value": "#ff0000"}, "value": "#008c00"}}},
 {"data": {"values": [{}]}, "mark": {"type": "text", "x": 6, "y": 1.5, "align": "left", "baseline": "middle", "fontSize": 12, "color": "#000", "text": "FIGB - Daily 2026-08-14 Open 42.4 \u00a0High 42.41 \u00a0Low 42.27 \u00a0Close 42.3 (-0.3%)"}},
 {"data": {"values": [{}]}, "mark": {"type": "text", "x": 6, "y": 16.5, "align": "left", "baseline": "middle", "fontSize": 12, "color": "#000", "text": "Vol 58,168"}},
 {"data": {"values": [{}]}, "mark": {"type": "text", "x": 67.7, "y": 16.5, "align": "left", "baseline": "middle", "fontSize": 12, "color": "#ff00ff", "text": "Res-1"}},
 {"data": {"values": [{}]}, "mark": {"type": "text", "x": 104, "y": 16.5, "align": "left", "baseline": "middle", "fontSize": 12, "color": "#000", "text": "= 42.34,"}},
 {"data": {"values": [{}]}, "mark": {"type": "text", "x": 151, "y": 16.5, "align": "left", "baseline": "middle", "fontSize": 12, "color": "#ff0000", "text": "Res-2"}},
 {"data": {"values": [{}]}, "mark": {"type": "text", "x": 189, "y": 16.5, "align": "left", "baseline": "middle", "fontSize": 12, "color": "#000", "text": "= 42.77,"}},
 {"data": {"values": [{}]}, "mark": {"type": "text", "x": 235, "y": 16.5, "align": "left", "baseline": "middle", "fontSize": 12, "color": "#0000ff", "text": "Sup-1"}},
 {"data": {"values": [{}]}, "mark": {"type": "text", "x": 270, "y": 16.5, "align": "left", "baseline": "middle", "fontSize": 12, "color": "#000", "text": "= 42.21,"}},
 {"data": {"values": [{}]}, "mark": {"type": "text", "x": 318.7, "y": 16.5, "align": "left", "baseline": "middle", "fontSize": 12, "color": "#008000", "text": "Sup-2"}},
 {"data": {"values": [{}]}, "mark": {"type": "text", "x": 352, "y": 16.5, "align": "left", "baseline": "middle", "fontSize": 12, "color": "#000", "text": "= 42.21"}}
]}
]
},
{
"spacing": 10,
"bounds": "flush",
"vconcat": [
{
"width": 715, "height": 87,
"layer": [
 {"data": {"name": "cd"}, "mark": {"type": "line", "color": "#ff0000", "strokeWidth": 1},
  "encoding": {
   "x": {"field": "d", "type": "temporal", "axis": null, "scale": {"domain": [{"year":2025,"month":6,"date":29,"hours":6},{"year":2026,"month":8,"date":18,"hours":5}], "nice": false}},
   "y": {"field": "ln", "type": "quantitative", "scale": {"domain": [5.52, 95.52], "nice": false, "zero": false},
    "axis": {"orient": "right", "title": null, "values": [20, 40, 60, 80], "labels": false, "grid": true, "gridDash": [1, 5], "gridColor": "#000", "gridOpacity": 1,
     "domain": false, "tickSize": 4, "tickColor": "#000"}}}},
 {"data": {"values": [{}]}, "mark": {"type": "rule", "color": "#000", "strokeDash": [1, 5]},
  "encoding": {"x": {"datum": {"year": 2026, "month": 1, "date": 2}, "type": "temporal", "axis": null}}},
 {"data": {"name": "st"}, "mark": {"type": "line", "color": "#000", "strokeWidth": 1, "interpolate": "step-after"},
  "encoding": {"x": {"field": "d", "type": "temporal", "axis": null}, "y": {"field": "v", "type": "quantitative"}, "detail": {"field": "s"}}},
 {"data": {"name": "cd"}, "mark": {"type": "line", "color": "#0000ff", "strokeWidth": 1},
  "encoding": {"x": {"field": "d", "type": "temporal", "axis": null}, "y": {"field": "sg", "type": "quantitative"}}},
 {"data": {"name": "cd"}, "mark": {"type": "line", "color": "#ff0000", "strokeWidth": 1},
  "encoding": {"x": {"field": "d", "type": "temporal", "axis": null}, "y": {"field": "ln", "type": "quantitative"}}},
 {"data": {"values": [{"g": 20}, {"g": 40}, {"g": 60}, {"g": 80}]},
  "mark": {"type": "text", "x": {"expr": "width + 57"}, "align": "right", "baseline": "middle", "fontSize": 12, "color": "#000"},
  "encoding": {"y": {"field": "g", "type": "quantitative"}, "text": {"field": "g", "type": "quantitative", "format": "d"}}},
 {"data": {"values": [{}]}, "mark": {"type": "text", "x": 3, "y": 2, "align": "left", "baseline": "middle", "fontSize": 12, "color": "#000", "text": "FIGB -"}},
 {"data": {"values": [{}]}, "mark": {"type": "text", "x": 41.6, "y": 2, "align": "left", "baseline": "middle", "fontSize": 12, "color": "#ff0000", "text": "Line"}},
 {"data": {"values": [{}]}, "mark": {"type": "text", "x": 67.5, "y": 2, "align": "left", "baseline": "middle", "fontSize": 12, "color": "#000", "text": "= 58.50, Top = 75.98, Bottom = 15.95,"}},
 {"data": {"values": [{}]}, "mark": {"type": "text", "x": 274, "y": 2, "align": "left", "baseline": "middle", "fontSize": 12, "color": "#0000ff", "text": "Signal"}},
 {"data": {"values": [{}]}, "mark": {"type": "text", "x": 311, "y": 2, "align": "left", "baseline": "middle", "fontSize": 12, "color": "#000", "text": "= 53.77"}}
]
},
{
"width": 715, "height": 315,
"layer": [
 {"data": {"name": "cd"}, "mark": {"type": "rule", "color": "#000", "strokeWidth": 1, "opacity": 0},
  "encoding": {
   "x": {"field": "d", "type": "temporal",
    "scale": {"domain": [{"year":2025,"month":6,"date":29,"hours":6},{"year":2026,"month":8,"date":18,"hours":5}], "nice": false},
    "axis": {"title": null, "grid": false, "domain": false, "tickSize": 7, "tickColor": "#000", "labelPadding": -5, "labelAlign": "left", "labelOffset": 2,
     "labelFontSize": 12, "labelColor": "#000", "labelFont": "Liberation Sans", "labelOverlap": false, "labelFlush": false,
     "values": [{"year":2025,"month":7,"date":1},{"year":2025,"month":8,"date":1},{"year":2025,"month":9,"date":2},{"year":2025,"month":10,"date":1},{"year":2025,"month":11,"date":3},{"year":2025,"month":12,"date":1},{"year":2026,"month":1,"date":2},{"year":2026,"month":2,"date":2},{"year":2026,"month":3,"date":2},{"year":2026,"month":4,"date":1},{"year":2026,"month":5,"date":1},{"year":2026,"month":6,"date":1},{"year":2026,"month":7,"date":1},{"year":2026,"month":8,"date":3}],
     "labelExpr": "month(datum.value) == 0 ? timeFormat(datum.value, '%Y') : timeFormat(datum.value, '%b')"}},
   "y": {"field": "l", "type": "quantitative",
    "scale": {"domain": [37.719, 47.242], "nice": false, "zero": false},
    "axis": {"orient": "right", "title": null, "values": [38, 39, 40, 41, 42, 43, 44, 45, 46, 47], "labels": false, "grid": true, "gridDash": [1, 5], "gridColor": "#000", "gridOpacity": 1,
     "domain": false, "tickSize": 4, "tickColor": "#000"}},
   "y2": {"field": "h"}}},
 {"data": {"values": [{}]}, "mark": {"type": "rule", "color": "#000", "strokeDash": [1, 5]},
  "encoding": {"x": {"datum": {"year": 2026, "month": 1, "date": 2}, "type": "temporal"}}},
 {"data": {"name": "cd"}, "mark": {"type": "line", "color": "#0000ff", "strokeWidth": 1},
  "encoding": {"x": {"field": "d", "type": "temporal"}, "y": {"field": "tr", "type": "quantitative"}}},
 {"data": {"name": "tb"}, "mark": {"type": "rule", "strokeWidth": 4},
  "encoding": {"x": {"field": "a", "type": "temporal"}, "x2": {"field": "b"}, "y": {"field": "p", "type": "quantitative"},
   "color": {"condition": {"test": "datum.t == 'top'", "value": "#ff0000"}, "value": "#009900"}}},
 {"data": {"name": "cd"}, "mark": {"type": "rule", "color": "#000", "strokeWidth": 1},
  "encoding": {"x": {"field": "d", "type": "temporal"}, "y": {"field": "l", "type": "quantitative"}, "y2": {"field": "h"}}},
 {"data": {"name": "cd"}, "mark": {"type": "bar", "size": 3, "stroke": "#000", "strokeWidth": 1},
  "encoding": {"x": {"field": "d", "type": "temporal"}, "y": {"field": "o", "type": "quantitative"}, "y2": {"field": "c"},
   "fill": {"condition": {"test": "datum.c >= datum.o", "value": "#ffffff"}, "value": "#000000"}}},
 {"data": {"name": "ab"}, "mark": {"type": "point", "filled": true, "size": 196, "opacity": 1, "strokeWidth": 0},
  "encoding": {"x": {"field": "d", "type": "temporal"}, "y": {"field": "p", "type": "quantitative"},
   "shape": {"condition": {"test": "datum.t == 'dn'", "value": "M-0.28,-1H0.28V0H0.7L0,1L-0.7,0H-0.28Z"}, "value": "M-0.28,1H0.28V0H0.7L0,-1L-0.7,0H-0.28Z"},
   "color": {"condition": {"test": "datum.t == 'dn'", "value": "#ff0000"}, "value": "#008c00"}}},
 {"data": {"values": [{"g": 38}, {"g": 39}, {"g": 40}, {"g": 41}, {"g": 42}, {"g": 43}, {"g": 44}, {"g": 45}, {"g": 46}, {"g": 47}]},
  "mark": {"type": "text", "x": {"expr": "width + 57"}, "align": "right", "baseline": "middle", "fontSize": 12, "color": "#000"},
  "encoding": {"y": {"field": "g", "type": "quantitative"}, "text": {"field": "g", "type": "quantitative", "format": "d"}}},
 {"data": {"values": [{}]}, "mark": {"type": "text", "x": 6, "y": 1, "align": "left", "baseline": "middle", "fontSize": 12, "color": "#000", "text": "FIGB - Daily 2026-08-14 Open 42.4,Hi 42.41,Lo 42.27, Close 42.3 (-0.3%)"}},
 {"data": {"values": [{}]}, "mark": {"type": "text", "x": 6, "y": 15.5, "align": "left", "baseline": "middle", "fontSize": 12, "color": "#000", "text": "Vol 5,816,800"}},
 {"data": {"values": [{}]}, "mark": {"type": "text", "x": 84, "y": 15.5, "align": "left", "baseline": "middle", "fontSize": 12, "color": "#ff0000", "text": "Top"}},
 {"data": {"values": [{}]}, "mark": {"type": "text", "x": 111, "y": 15.5, "align": "left", "baseline": "middle", "fontSize": 12, "color": "#000", "text": "= 42.67,"}},
 {"data": {"values": [{}]}, "mark": {"type": "text", "x": 155, "y": 15.5, "align": "left", "baseline": "middle", "fontSize": 12, "color": "#009900", "text": "Bottom"}},
 {"data": {"values": [{}]}, "mark": {"type": "text", "x": 199, "y": 15.5, "align": "left", "baseline": "middle", "fontSize": 12, "color": "#000", "text": "= 42.13,"}},
 {"data": {"values": [{}]}, "mark": {"type": "text", "x": 245, "y": 15.5, "align": "left", "baseline": "middle", "fontSize": 12, "color": "#6633cc", "text": "Trend"}},
 {"data": {"values": [{}]}, "mark": {"type": "text", "x": 281, "y": 15.5, "align": "left", "baseline": "middle", "fontSize": 12, "color": "#000", "text": "= 42.04"}}
]
}
]
}
]
}
